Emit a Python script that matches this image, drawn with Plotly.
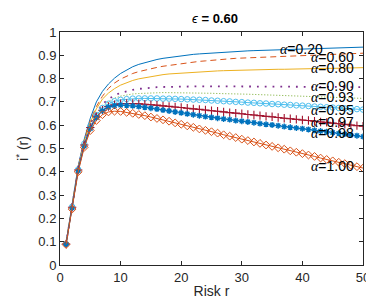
import plotly.graph_objects as go

r = list(range(1, 51))

a020 = [0.095, 0.26, 0.425, 0.54, 0.63, 0.70, 0.745, 0.777, 0.802, 0.822, 0.838, 0.851, 0.861, 0.869, 0.876, 0.882, 0.887, 0.891, 0.895, 0.898,
        0.901, 0.904, 0.906, 0.908, 0.910, 0.912, 0.914, 0.915, 0.917, 0.918, 0.919, 0.920, 0.921, 0.922, 0.923, 0.924, 0.925, 0.926, 0.927, 0.928,
        0.929, 0.930, 0.930, 0.931, 0.932, 0.932, 0.933, 0.933, 0.934, 0.935]
a060 = [0.093, 0.255, 0.42, 0.535, 0.62, 0.68, 0.724, 0.758, 0.781, 0.798, 0.811, 0.822, 0.830, 0.837, 0.843, 0.848, 0.853, 0.857, 0.861, 0.865,
        0.868, 0.871, 0.874, 0.876, 0.879, 0.881, 0.883, 0.885, 0.887, 0.888, 0.890, 0.891, 0.893, 0.894, 0.895, 0.896, 0.897, 0.898, 0.899, 0.900,
        0.901, 0.902, 0.903, 0.904, 0.905, 0.906, 0.906, 0.907, 0.908, 0.909]
a080 = [0.092, 0.252, 0.415, 0.53, 0.612, 0.67, 0.712, 0.738, 0.757, 0.772, 0.783, 0.792, 0.799, 0.804, 0.809, 0.813, 0.817, 0.820, 0.822, 0.824,
        0.826, 0.828, 0.829, 0.831, 0.832, 0.833, 0.834, 0.835, 0.836, 0.836, 0.837, 0.838, 0.838, 0.839, 0.839, 0.840, 0.840, 0.841, 0.841, 0.842,
        0.842, 0.843, 0.843, 0.844, 0.844, 0.845, 0.845, 0.846, 0.846, 0.847]
a090 = [0.091, 0.25, 0.412, 0.525, 0.605, 0.655, 0.69, 0.712, 0.728, 0.739, 0.746, 0.752, 0.756, 0.759, 0.761, 0.763, 0.764, 0.765, 0.766, 0.766,
        0.767, 0.767, 0.767, 0.767, 0.767, 0.767, 0.767, 0.767, 0.767, 0.766, 0.766, 0.766, 0.766, 0.766, 0.766, 0.765, 0.765, 0.765, 0.765, 0.765,
        0.765, 0.764, 0.764, 0.764, 0.764, 0.764, 0.764, 0.763, 0.763, 0.763]
a093 = [0.09, 0.25, 0.41, 0.522, 0.60, 0.648, 0.681, 0.702, 0.716, 0.725, 0.731, 0.734, 0.736, 0.738, 0.739, 0.739, 0.740, 0.740, 0.740, 0.740,
        0.739, 0.739, 0.738, 0.738, 0.737, 0.736, 0.736, 0.735, 0.734, 0.733, 0.733, 0.732, 0.731, 0.730, 0.729, 0.729, 0.728, 0.727, 0.726, 0.725,
        0.724, 0.723, 0.722, 0.721, 0.720, 0.719, 0.718, 0.717, 0.716, 0.715]
a095 = [0.09, 0.25, 0.41, 0.52, 0.596, 0.643, 0.674, 0.692, 0.703, 0.709, 0.712, 0.714, 0.715, 0.715, 0.715, 0.715, 0.714, 0.714, 0.713, 0.712,
        0.711, 0.710, 0.709, 0.708, 0.706, 0.705, 0.703, 0.702, 0.700, 0.699, 0.697, 0.696, 0.694, 0.693, 0.691, 0.690, 0.688, 0.687, 0.685, 0.684,
        0.682, 0.680, 0.679, 0.677, 0.676, 0.674, 0.672, 0.671, 0.669, 0.667]
a097 = [0.09, 0.248, 0.408, 0.515, 0.59, 0.636, 0.664, 0.680, 0.688, 0.692, 0.693, 0.693, 0.692, 0.690, 0.688, 0.686, 0.683, 0.681, 0.678, 0.676,
        0.673, 0.670, 0.668, 0.665, 0.662, 0.660, 0.657, 0.654, 0.652, 0.649, 0.646, 0.644, 0.641, 0.638, 0.636, 0.633, 0.630, 0.628, 0.625, 0.622,
        0.620, 0.617, 0.614, 0.612, 0.609, 0.606, 0.604, 0.601, 0.598, 0.596]
a098 = [0.09, 0.245, 0.405, 0.51, 0.585, 0.632, 0.662, 0.678, 0.684, 0.686, 0.685, 0.683, 0.680, 0.677, 0.673, 0.669, 0.665, 0.661, 0.657, 0.653,
        0.649, 0.645, 0.641, 0.637, 0.634, 0.630, 0.627, 0.624, 0.620, 0.617, 0.614, 0.611, 0.607, 0.604, 0.601, 0.598, 0.594, 0.591, 0.588, 0.585,
        0.582, 0.578, 0.575, 0.572, 0.568, 0.565, 0.562, 0.558, 0.555, 0.551]
a100 = [0.088, 0.24, 0.40, 0.505, 0.577, 0.62, 0.645, 0.657, 0.660, 0.659, 0.655, 0.651, 0.646, 0.641, 0.635, 0.629, 0.623, 0.617, 0.610, 0.604,
        0.597, 0.591, 0.584, 0.578, 0.572, 0.566, 0.559, 0.553, 0.547, 0.540, 0.534, 0.528, 0.522, 0.515, 0.509, 0.503, 0.497, 0.490, 0.484, 0.478,
        0.472, 0.466, 0.459, 0.453, 0.447, 0.441, 0.435, 0.428, 0.422, 0.416]

labels = ["0.20", "0.60", "0.80", "0.90", "0.93", "0.95", "0.97", "0.98", "1.00"]
label_x = [35.9, 41.1, 41.1, 41.1, 41.1, 41.1, 41.1, 41.1, 41.1]
label_y = [0.925, 0.894, 0.846, 0.767, 0.723, 0.664, 0.612, 0.565, 0.427]

xticks = [0, 10, 20, 30, 40, 50]
yticks = [0, 0.1, 0.2, 0.3, 0.4, 0.5, 0.6, 0.7, 0.8, 0.9, 1]
ytick_text = ["0", "0.1", "0.2", "0.3", "0.4", "0.5", "0.6", "0.7", "0.8", "0.9", "1"]

styles = [
    (a020, dict(color="#0072BD", width=1), None),
    (a060, dict(color="#D95319", width=1, dash="6px,4px"), None),
    (a080, dict(color="#EDB120", width=1), None),
    (a090, dict(color="#7E2F8E", width=1.8, dash="1.8px,6px"), None),
    (a093, dict(color="#77AC30", width=1, dash="1px,2px"), None),
    (a095, dict(color="#4DBEEE", width=1), dict(symbol="circle-open", size=5.5, color="#4DBEEE", line=dict(width=1))),
    (a097, dict(color="#A2142F", width=1), dict(symbol="cross-thin-open", size=6, color="#A2142F", line=dict(width=1.1, color="#A2142F"))),
    (a098, dict(color="#0072BD", width=1), dict(symbol="asterisk-open", size=5, color="#0072BD", line=dict(width=1.4, color="#0072BD"))),
    (a100, dict(color="#D95319", width=1), dict(symbol="diamond-open", size=6, color="#D95319", line=dict(width=1))),
]

fig = go.Figure()
for ys, line, marker in styles:
    if marker is None:
        fig.add_trace(go.Scatter(x=r, y=ys, mode="lines", line=line, showlegend=False))
    else:
        fig.add_trace(go.Scatter(x=r, y=ys, mode="lines+markers", line=line, marker=marker, showlegend=False))

for lab, lx, ly in zip(labels, label_x, label_y):
    fig.add_annotation(
        x=lx, y=ly, xref="x", yref="y", xanchor="left", yanchor="middle",
        text='<span style="font-family:Liberation Serif;font-style:italic">α</span>=' + lab,
        showarrow=False, font=dict(family="Liberation Sans, Arial", size=14, color="black"),
    )

axis_common = dict(
    showline=True, linecolor="#262626", linewidth=1, mirror="ticks",
    ticks="inside", ticklen=4, tickcolor="#262626", showgrid=False, zeroline=False,
    tickfont=dict(family="Liberation Sans, Arial", size=13, color="#262626"),
)

fig.update_layout(
    width=374, height=300,
    margin=dict(l=52, r=12, t=24, b=34),
    paper_bgcolor="white", plot_bgcolor="white",
    title=dict(text='<span style="font-weight:normal"><i>ϵ</i></span> <b>= 0.60</b>',
               x=0.5535, xanchor="center", y=0.965, yanchor="middle",
               font=dict(family="Liberation Sans, Arial", size=13, color="black")),
    xaxis=dict(range=[0, 50], tickvals=xticks,
               title=dict(text="Risk r", standoff=2, font=dict(family="Liberation Sans, Arial", size=14, color="#262626")),
               **axis_common),
    yaxis=dict(range=[0, 1], tickvals=yticks, ticktext=ytick_text,
               title=dict(text="i<sup>*</sup> (r)", standoff=6, font=dict(family="Liberation Sans, Arial", size=14, color="#262626")),
               **axis_common),
)

fig.write_html("out.html")
